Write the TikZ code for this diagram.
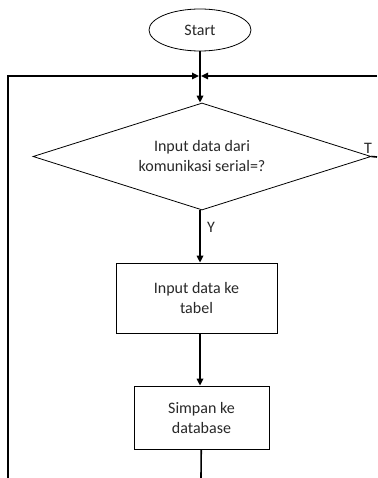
\documentclass[tikz,border=0pt]{standalone}
\usepackage{fontspec}
\setmainfont{Carlito}
\usepackage{tikz}
\usetikzlibrary{arrows.meta,shapes.geometric,positioning}
\definecolor{fctext}{RGB}{40,40,40}
\tikzstyle{arrow} = [line width=1.6pt,-{Triangle[length=7pt,width=6.5pt]}]
\tikzstyle{flowline} = [line width=1.6pt]
\tikzstyle{terminal} = [ellipse, draw, line width=0.8pt, minimum width=102pt, minimum height=42pt, inner sep=0pt, text=fctext]
\tikzstyle{decision} = [diamond, draw, line width=0.8pt, minimum width=338pt, minimum height=107pt, inner sep=0pt, aspect=3.1, align=center, text=fctext]
\tikzstyle{process} = [rectangle, draw, line width=0.8pt, align=center, text=fctext, inner sep=0pt]

\begin{document}
\begin{tikzpicture}[x=1pt, y=-1pt, font=\fontsize{16}{20}\selectfont]
\useasboundingbox (0,0) rectangle (377,478);

% Flowchart blocks
\node[terminal] (start) at (200,30) {Start};
\node[decision] (input) at (202,156.5) {Input data dari\\komunikasi serial=?};
\node[process, minimum width=161pt, minimum height=70pt] (tabel) at (196.5,298) {Input data ke\\tabel};
\node[process, minimum width=135pt, minimum height=63pt] (simpan) at (201.5,417.5) {Simpan ke\\database};

% Loop points
\coordinate (join) at (200,76);
\coordinate (leftdown) at (8,478);
\coordinate (leftup) at (8,76);
\coordinate (rightup) at (377,76);
\coordinate (rightout) at (377,157);
\coordinate (enddown) at (201,478);

% Arrows
\draw[arrow] (start) -- (start |- input.north);
\draw[arrow] (input.south -| join) -- (join |- tabel.north);
\draw[arrow] (tabel.south -| join) -- (join |- simpan.north);
\draw[flowline] (simpan) -- (enddown);
\draw[arrow] (leftdown) -- (leftup) -- ([xshift=-1pt]join);
\draw[arrow] (rightup) -- ([xshift=1pt]join);
\draw[flowline] (input.east) -- (rightout);

% Labels
\node[text=fctext] (ylabel) at (211,227) {Y};
\node[text=fctext] (tlabel) at (368,148) {T};
\end{tikzpicture}
\end{document}
